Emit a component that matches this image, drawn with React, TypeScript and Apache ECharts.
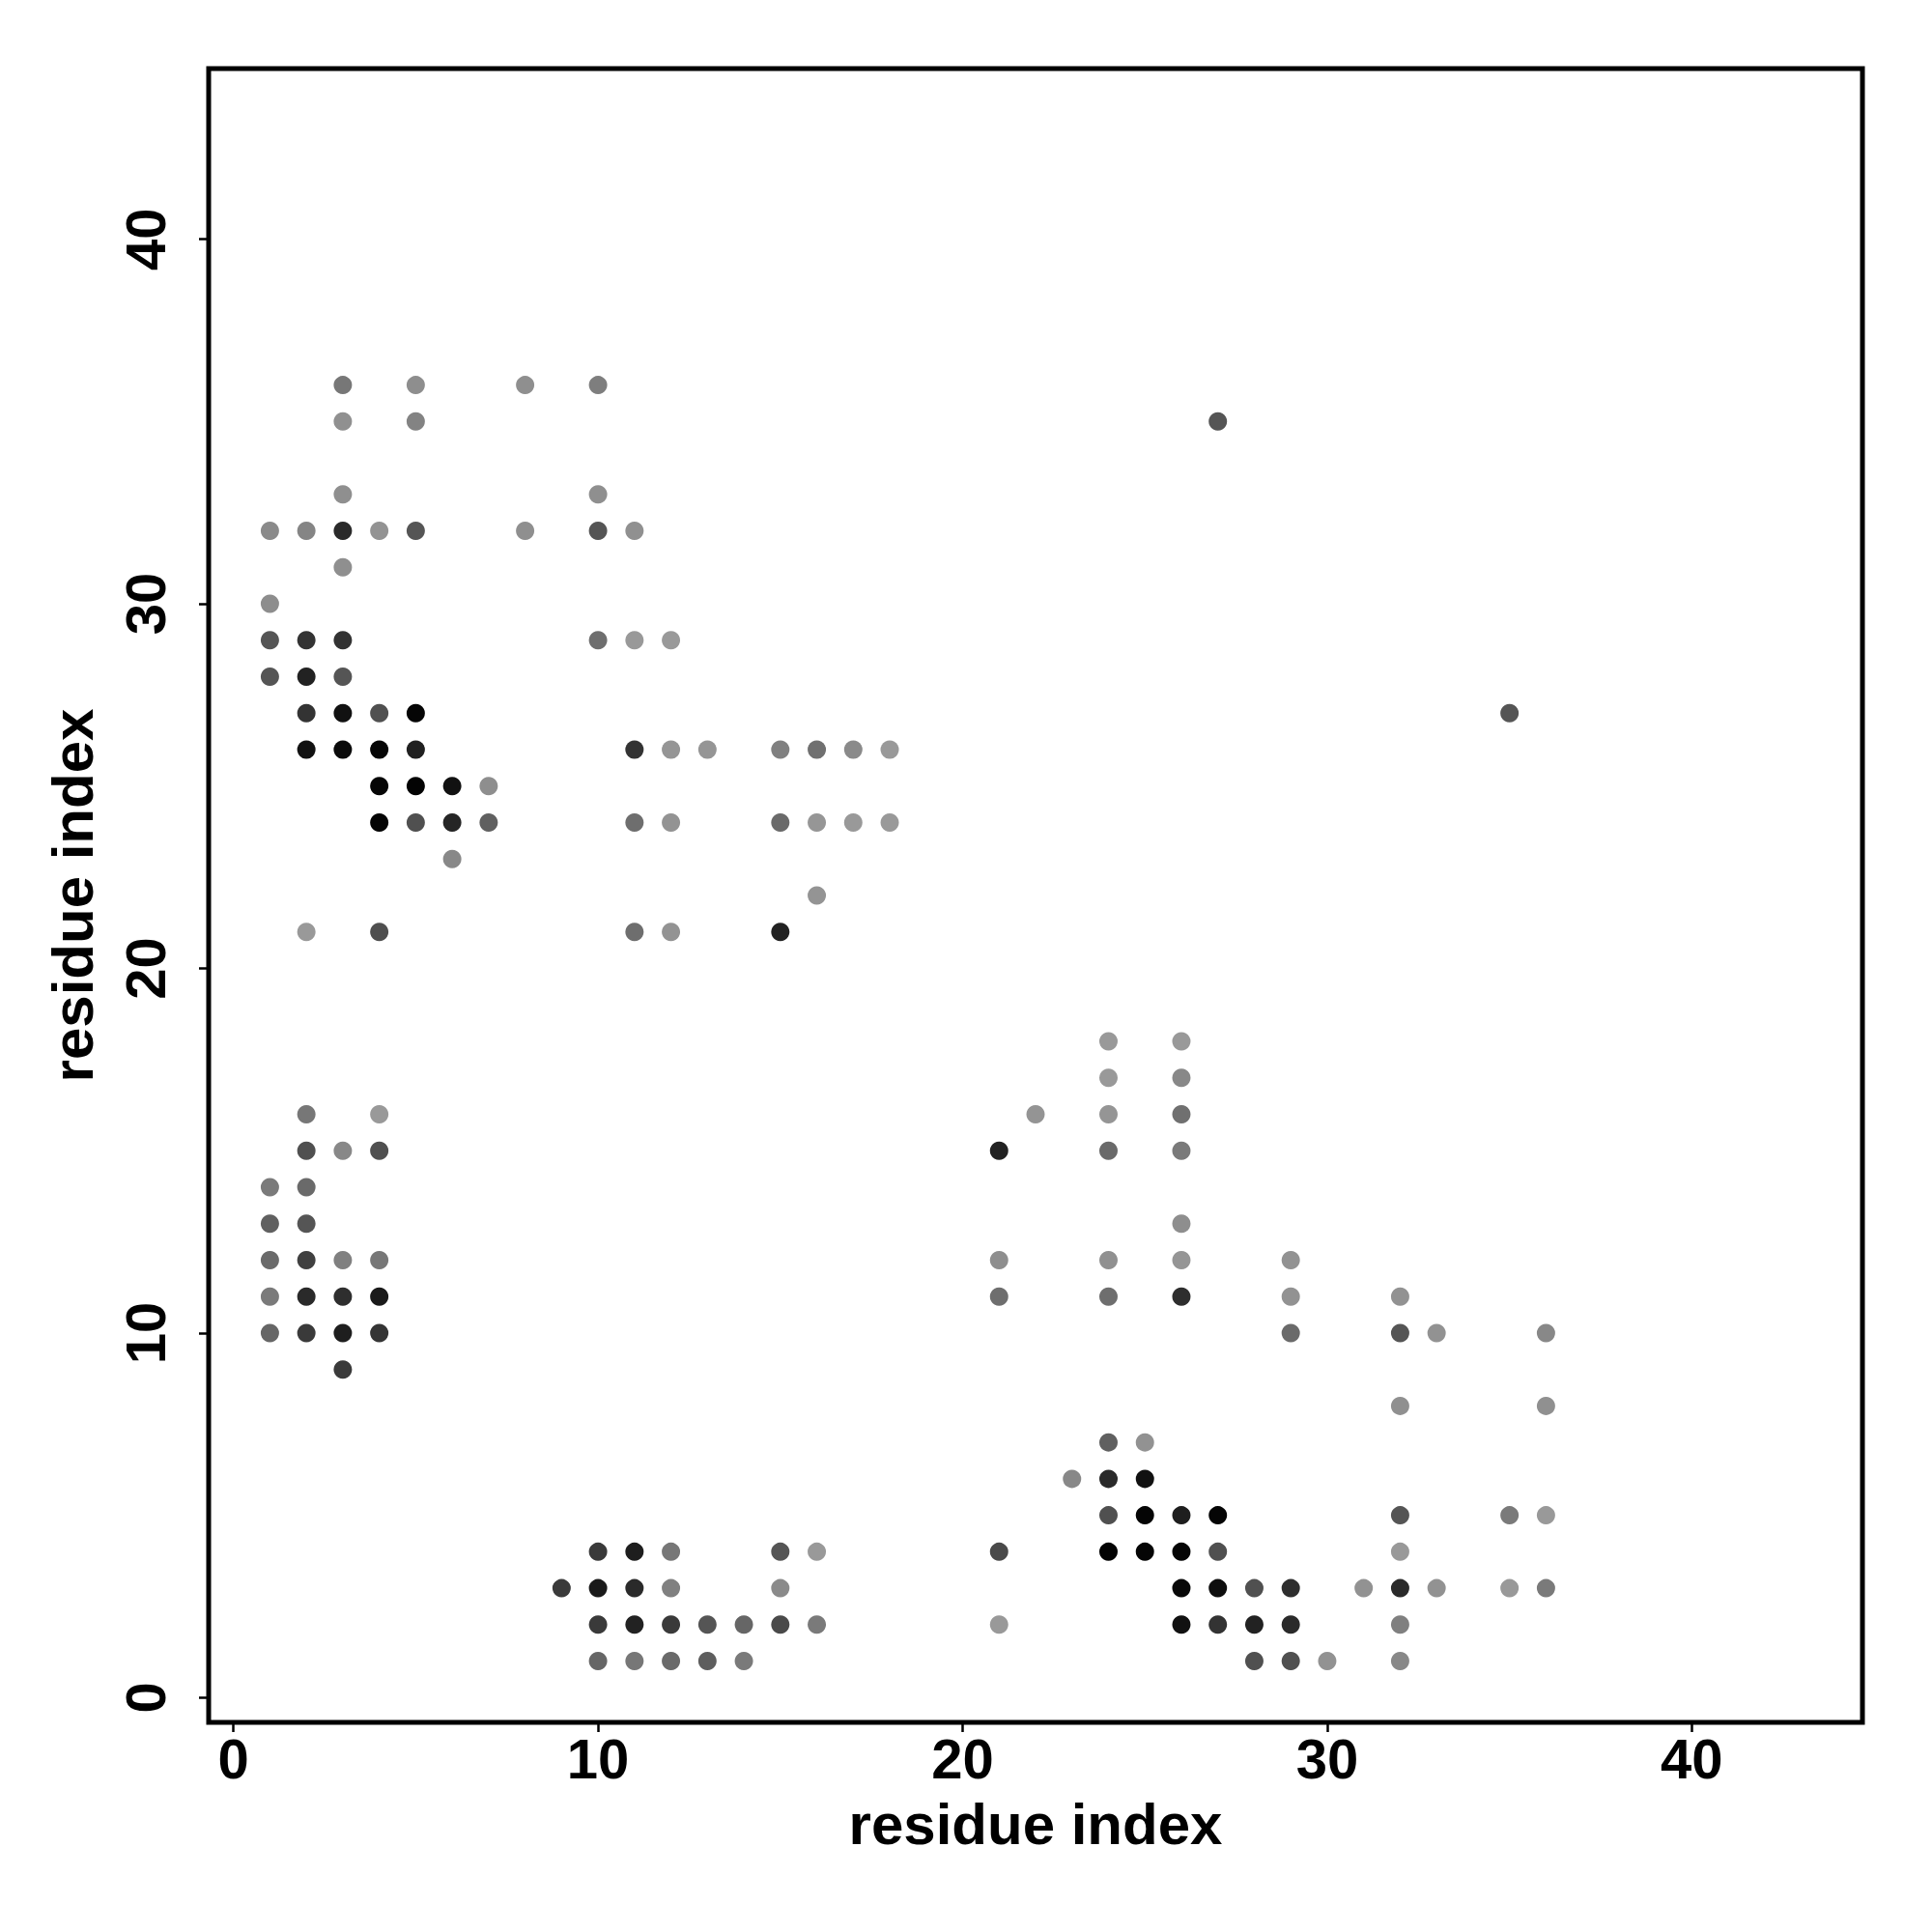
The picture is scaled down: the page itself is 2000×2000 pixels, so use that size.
import React, { useEffect, useRef } from "react";
import * as echarts from "echarts";

const xTicks = [0, 10, 20, 30, 40];
const yTicks = [0, 10, 20, 30, 40];
const xTitle = "residue index";
const yTitle = "residue index";

// contacts: [residue i, residue j, gray level 0-255]
const upperLeft: number[][] = [
  [3, 36, 0x77], [5, 36, 0x8e], [8, 36, 0x8f], [10, 36, 0x7e],
  [3, 35, 0x90], [5, 35, 0x83],
  [3, 33, 0x8f], [10, 33, 0x8f],
  [1, 32, 0x8a], [2, 32, 0x85], [3, 32, 0x2a], [4, 32, 0x93], [5, 32, 0x55], [8, 32, 0x8f], [10, 32, 0x55], [11, 32, 0x90],
  [3, 31, 0x8f],
  [1, 30, 0x8d],
  [1, 29, 0x55], [2, 29, 0x33], [3, 29, 0x33], [10, 29, 0x6e], [11, 29, 0x99], [12, 29, 0x99],
  [1, 28, 0x55], [2, 28, 0x22], [3, 28, 0x55],
  [2, 27, 0x33], [3, 27, 0x11], [4, 27, 0x50], [5, 27, 0x05],
  [2, 26, 0x11], [3, 26, 0x0a], [4, 26, 0x06], [5, 26, 0x20], [11, 26, 0x33], [12, 26, 0x95], [13, 26, 0x95],
  [15, 26, 0x80], [16, 26, 0x70], [17, 26, 0x8a], [18, 26, 0x99],
  [4, 25, 0x06], [5, 25, 0x03], [6, 25, 0x11], [7, 25, 0x8e],
  [4, 24, 0x04], [5, 24, 0x50], [6, 24, 0x25], [7, 24, 0x60], [11, 24, 0x6e], [12, 24, 0x93],
  [15, 24, 0x6a], [16, 24, 0x96], [17, 24, 0x99], [18, 24, 0x99],
  [6, 23, 0x88],
  [16, 22, 0x94],
  [2, 21, 0x99], [4, 21, 0x4f], [11, 21, 0x6e], [12, 21, 0x93], [15, 21, 0x22],
];

const lowerLeft: number[][] = [
  [2, 16, 0x77], [4, 16, 0x99],
  [2, 15, 0x50], [3, 15, 0x88], [4, 15, 0x50],
  [1, 14, 0x7a], [2, 14, 0x6a],
  [1, 13, 0x60], [2, 13, 0x55],
  [1, 12, 0x6a], [2, 12, 0x40], [3, 12, 0x80], [4, 12, 0x77],
  [1, 11, 0x7a], [2, 11, 0x2a], [3, 11, 0x2e], [4, 11, 0x1a],
  [1, 10, 0x66], [2, 10, 0x3a], [3, 10, 0x1e], [4, 10, 0x35],
  [3, 9, 0x3a],
];

const bottomMiddle: number[][] = [
  [10, 4, 0x3a], [11, 4, 0x1e], [12, 4, 0x77], [15, 4, 0x55], [16, 4, 0x99],
  [9, 3, 0x3a], [10, 3, 0x1a], [11, 3, 0x2a], [12, 3, 0x80], [15, 3, 0x8a],
  [10, 2, 0x3a], [11, 2, 0x22], [12, 2, 0x3a], [13, 2, 0x55], [14, 2, 0x66], [15, 2, 0x4a], [16, 2, 0x7a],
  [10, 1, 0x66], [11, 1, 0x77], [12, 1, 0x6a], [13, 1, 0x5e], [14, 1, 0x7a],
];

const rightSide: number[][] = [
  [24, 18, 0x99], [26, 18, 0x99],
  [24, 17, 0x99], [26, 17, 0x88],
  [22, 16, 0x94], [24, 16, 0x95], [26, 16, 0x70],
  [21, 15, 0x22], [24, 15, 0x6a], [26, 15, 0x7a],
  [26, 13, 0x8e],
  [21, 12, 0x8e], [24, 12, 0x90], [26, 12, 0x95], [29, 12, 0x92],
  [21, 11, 0x6e], [24, 11, 0x6e], [26, 11, 0x2e], [29, 11, 0x92], [32, 11, 0x92],
  [29, 10, 0x6a], [32, 10, 0x55], [33, 10, 0x92], [36, 10, 0x88],
  [32, 8, 0x90], [36, 8, 0x90],
  [24, 7, 0x60], [25, 7, 0x92],
  [23, 6, 0x88], [24, 6, 0x2a], [25, 6, 0x11],
  [24, 5, 0x50], [25, 5, 0x05], [26, 5, 0x1e], [27, 5, 0x05], [32, 5, 0x55], [35, 5, 0x7a], [36, 5, 0x99],
  [21, 4, 0x4a], [24, 4, 0x03], [25, 4, 0x05], [26, 4, 0x05], [27, 4, 0x50], [32, 4, 0x99],
  [26, 3, 0x08], [27, 3, 0x0e], [28, 3, 0x50], [29, 3, 0x2e], [31, 3, 0x92], [32, 3, 0x2a], [33, 3, 0x92], [35, 3, 0x99], [36, 3, 0x7a],
  [21, 2, 0x99], [26, 2, 0x11], [27, 2, 0x33], [28, 2, 0x22], [29, 2, 0x2a], [32, 2, 0x80],
  [28, 1, 0x50], [29, 1, 0x50], [30, 1, 0x92], [32, 1, 0x88],
];

const isolated: number[][] = [
  [27, 35, 0x55],
  [35, 27, 0x55],
];

const allContacts = [...upperLeft, ...lowerLeft, ...bottomMiddle, ...rightSide, ...isolated];

const FONT = "'Liberation Sans', Arial, Helvetica, sans-serif";

export default function App() {
  const ref = useRef<HTMLDivElement>(null);

  useEffect(() => {
    document.body.style.margin = "0";
    if (!ref.current) return;
    const chart = echarts.init(ref.current, undefined, { renderer: "svg" });
    const labelStyle = {
      fontSize: 58,
      fontWeight: "bold" as const,
      fontFamily: FONT,
      color: "#000",
      lineHeight: 58,
    };
    const titleStyle = { ...labelStyle, fontSize: 60, lineHeight: 60 };
    const tickStyle = { color: "#000", width: 2.5 };
    chart.setOption({
      animation: false,
      backgroundColor: "#fff",
      grid: {
        left: 216,
        top: 71,
        width: 1712,
        height: 1712,
        show: true,
        borderColor: "#000",
        borderWidth: 5,
        backgroundColor: "transparent",
      },
      xAxis: {
        type: "value",
        min: -0.68,
        max: 44.68,
        splitLine: { show: false },
        axisLine: { show: false, onZero: false },
        axisTick: { show: true, customValues: xTicks, length: 10, lineStyle: tickStyle },
        axisLabel: { ...labelStyle, customValues: xTicks, margin: 8 },
        name: xTitle,
        nameLocation: "middle",
        nameGap: 75,
        nameTextStyle: titleStyle,
      },
      yAxis: {
        type: "value",
        min: -0.68,
        max: 44.68,
        splitLine: { show: false },
        axisLine: { show: false, onZero: false },
        axisTick: { show: true, customValues: yTicks, length: 10, lineStyle: tickStyle },
        axisLabel: { ...labelStyle, customValues: yTicks, rotate: 90, margin: 37 },
        name: yTitle,
        nameLocation: "middle",
        nameRotate: 90,
        nameGap: 111,
        nameTextStyle: titleStyle,
      },
      series: [
        {
          type: "scatter",
          symbol: "circle",
          symbolSize: 19,
          itemStyle: { opacity: 1 },
          data: allContacts.map(([x, y, g]) => ({
            value: [x, y],
            itemStyle: { color: `rgb(${g},${g},${g})`, opacity: 1 },
          })),
        },
      ],
    });
    return () => chart.dispose();
  }, []);

  return <div ref={ref} style={{ width: 2000, height: 2000 }} />;
}
